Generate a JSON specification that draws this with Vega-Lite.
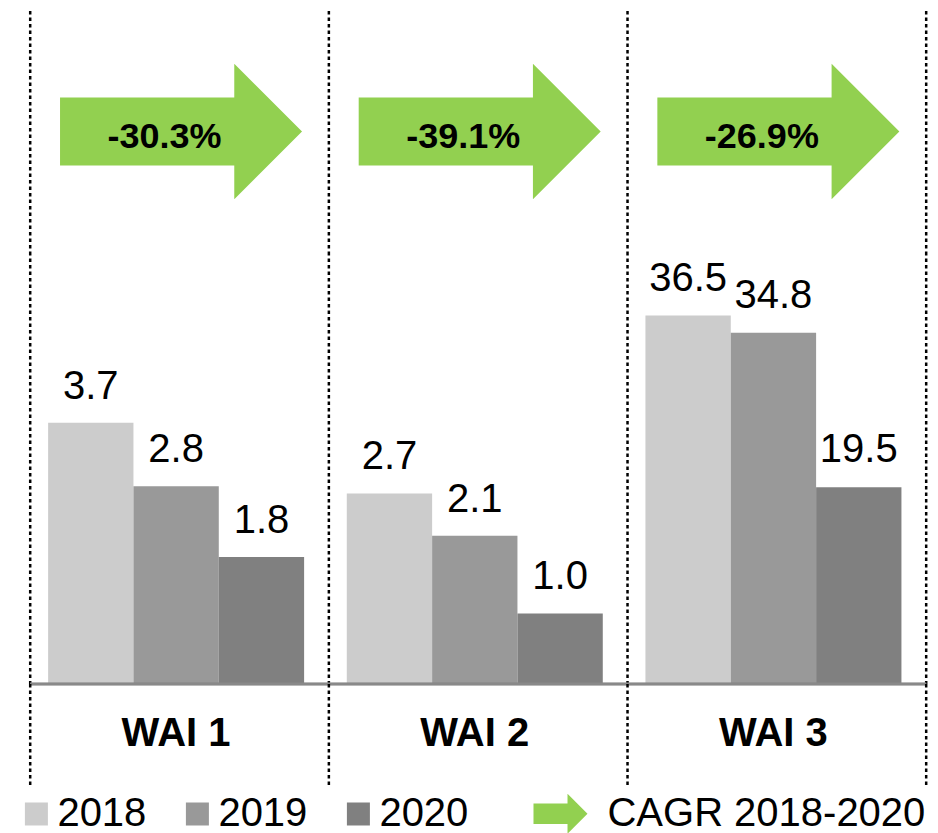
{
  "$schema": "https://vega.github.io/schema/vega-lite/v6.json",
  "padding": {"left": 16.2, "top": 9, "right": 0, "bottom": 0},
  "config": {
    "font": "Liberation Sans",
    "view": {"stroke": null},
    "text": {"font": "Liberation Sans", "color": "#000000"},
    "legend": {"labelFont": "Liberation Sans", "labelColor": "#000000"}
  },
  "datasets": {
    "bars": [
      {"group": "WAI 1", "series": "2018", "value": 3.7},
      {"group": "WAI 1", "series": "2019", "value": 2.8},
      {"group": "WAI 1", "series": "2020", "value": 1.8},
      {"group": "WAI 2", "series": "2018", "value": 2.7},
      {"group": "WAI 2", "series": "2019", "value": 2.1},
      {"group": "WAI 2", "series": "2020", "value": 1.0},
      {"group": "WAI 3", "series": "2018", "value": 36.5},
      {"group": "WAI 3", "series": "2019", "value": 34.8},
      {"group": "WAI 3", "series": "2020", "value": 19.5}
    ],
    "groups": [
      {"group": "WAI 1", "cagr": "-30.3%", "series": "CAGR 2018-2020"},
      {"group": "WAI 2", "cagr": "-39.1%", "series": "CAGR 2018-2020"},
      {"group": "WAI 3", "cagr": "-26.9%", "series": "CAGR 2018-2020"}
    ]
  },
  "bounds": "flush",
  "spacing": 0,
  "vconcat": [
    {
      "width": 896,
      "height": 241,
      "layer": [
        {
          "data": {"name": "groups"},
          "mark": {"type": "rule", "strokeDash": [3.5, 3], "strokeWidth": 2.5, "color": "#000000"},
          "encoding": {"x": {"field": "group", "type": "nominal", "bandPosition": 0, "axis": null,
            "scale": {"type": "band", "domain": ["WAI 1", "WAI 2", "WAI 3"], "paddingInner": 0, "paddingOuter": 0}}}
        },
        {
          "data": {"name": "groups"},
          "transform": [{"filter": "datum.group === 'WAI 3'"}],
          "mark": {"type": "rule", "strokeDash": [3.5, 3], "strokeWidth": 2.5, "color": "#000000"},
          "encoding": {"x": {"field": "group", "type": "nominal", "bandPosition": 1, "axis": null}}
        },
        {
          "data": {"name": "groups"},
          "mark": {"type": "point", "shape": "M-1,-0.281L0.44,-0.281L0.44,-0.56L1,0L0.44,0.56L0.44,0.281L-1,0.281Z", "size": 58564, "filled": true, "opacity": 1, "strokeWidth": 0, "xOffset": 1.5},
          "encoding": {
            "x": {"field": "group", "type": "nominal", "axis": null},
            "fill": {"field": "series", "type": "nominal", "scale": {"domain": ["CAGR 2018-2020"], "range": ["#92D050"]},
              "legend": {"title": null, "orient": "none", "legendX": 503.3, "legendY": 775.7, "padding": 0,
                "symbolType": "M-1,-0.38L0.26,-0.38L0.26,-0.74L1,0L0.26,0.74L0.26,0.38L-1,0.38Z",
                "symbolSize": 2916, "symbolStrokeWidth": 0, "labelFontSize": 40, "labelOffset": 20, "labelLimit": 400}}
          }
        },
        {
          "data": {"name": "groups"},
          "mark": {"type": "text", "fontSize": 36, "fontWeight": "bold", "dx": -15, "dy": 5},
          "encoding": {
            "x": {"field": "group", "type": "nominal", "axis": null},
            "text": {"field": "cagr"}
          }
        }
      ]
    },
    {
      "width": 896,
      "height": 432,
      "layer": [
        {
          "data": {"name": "groups"},
          "mark": {"type": "rule", "strokeDash": [3.5, 3], "strokeWidth": 2.5, "color": "#000000"},
          "encoding": {"x": {"field": "group", "type": "nominal", "bandPosition": 0, "axis": null,
            "scale": {"type": "band", "domain": ["WAI 1", "WAI 2", "WAI 3"], "paddingInner": 0, "paddingOuter": 0}}}
        },
        {
          "data": {"name": "groups"},
          "transform": [{"filter": "datum.group === 'WAI 3'"}],
          "mark": {"type": "rule", "strokeDash": [3.5, 3], "strokeWidth": 2.5, "color": "#000000"},
          "encoding": {"x": {"field": "group", "type": "nominal", "bandPosition": 1, "axis": null}}
        },
        {
          "data": {"name": "bars"},
          "transform": [{"filter": "datum.group !== 'WAI 3'"}],
          "encoding": {
            "x": {"field": "group", "type": "nominal", "axis": null},
            "xOffset": {"field": "series", "type": "nominal",
              "scale": {"type": "band", "domain": ["2018", "2019", "2020"], "paddingInner": 0, "paddingOuter": 0.25, "align": 0.42}},
            "y": {"field": "value", "type": "quantitative", "scale": {"domain": [0, 6.12], "nice": false, "zero": true}, "axis": null}
          },
          "layer": [
            {
              "mark": {"type": "bar"},
              "encoding": {
                "color": {"field": "series", "type": "nominal",
                  "scale": {"domain": ["2018", "2019", "2020"], "range": ["#CCCCCC", "#999999", "#808080"]},
                  "legend": {"title": null, "orient": "none", "legendX": -13.8, "legendY": 783, "direction": "horizontal", "padding": 0,
                    "symbolType": "square", "symbolSize": 529, "symbolStrokeWidth": 0, "labelFontSize": 40, "labelOffset": 1,
                    "columnPadding": 31, "labelLimit": 400}}
              }
            },
            {
              "mark": {"type": "text", "fontSize": 40, "baseline": "alphabetic", "dy": -24},
              "encoding": {"text": {"field": "value", "type": "quantitative", "format": ".1f"}}
            }
          ]
        },
        {
          "data": {"name": "bars"},
          "transform": [{"filter": "datum.group === 'WAI 3'"}],
          "encoding": {
            "x": {"field": "group", "type": "nominal", "axis": null},
            "xOffset": {"field": "series", "type": "nominal"},
            "y": {"field": "value", "type": "quantitative", "scale": {"domain": [0, 42.8], "nice": false, "zero": true}, "axis": null}
          },
          "layer": [
            {
              "mark": {"type": "bar"},
              "encoding": {"color": {"field": "series", "type": "nominal"}}
            },
            {
              "mark": {"type": "text", "fontSize": 40, "baseline": "alphabetic", "dy": -25},
              "encoding": {"text": {"field": "value", "type": "quantitative", "format": ".1f"}}
            }
          ]
        },
        {
          "data": {"name": "groups"},
          "mark": {"type": "rule", "color": "#898989", "strokeWidth": 2.5},
          "encoding": {"y": {"datum": 0, "type": "quantitative", "scale": {"domain": [0, 6.12], "nice": false}, "axis": null}}
        }
      ],
      "resolve": {"scale": {"y": "independent"}}
    },
    {
      "width": 896,
      "height": 101,
      "layer": [
        {
          "data": {"name": "groups"},
          "mark": {"type": "rule", "strokeDash": [3.5, 3], "strokeWidth": 2.5, "color": "#000000"},
          "encoding": {"x": {"field": "group", "type": "nominal", "bandPosition": 0, "axis": null,
            "scale": {"type": "band", "domain": ["WAI 1", "WAI 2", "WAI 3"], "paddingInner": 0, "paddingOuter": 0}}}
        },
        {
          "data": {"name": "groups"},
          "transform": [{"filter": "datum.group === 'WAI 3'"}],
          "mark": {"type": "rule", "strokeDash": [3.5, 3], "strokeWidth": 2.5, "color": "#000000"},
          "encoding": {"x": {"field": "group", "type": "nominal", "bandPosition": 1, "axis": null}}
        },
        {
          "data": {"name": "groups"},
          "mark": {"type": "text", "fontSize": 40, "fontWeight": "bold", "dx": -3.5},
          "encoding": {
            "x": {"field": "group", "type": "nominal", "axis": null},
            "text": {"field": "group"}
          }
        }
      ]
    }
  ]
}
